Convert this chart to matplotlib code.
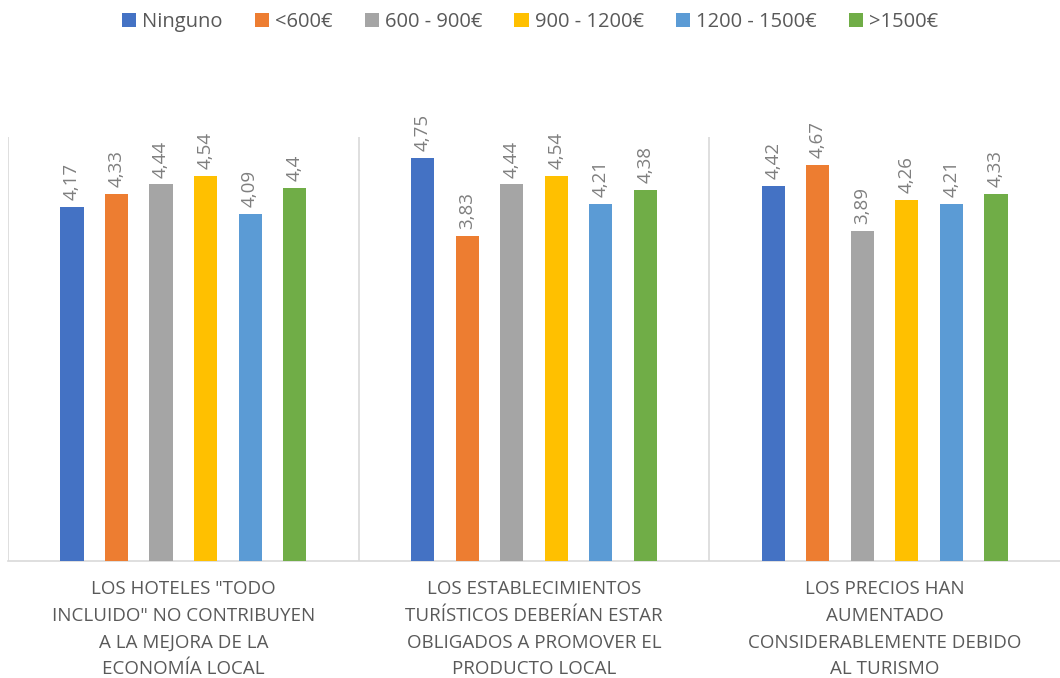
import matplotlib.pyplot as plt
import numpy as np

plt.rcParams['font.family'] = ['Open Sans', 'DejaVu Sans']

categories = [
    'LOS HOTELES "TODO\nINCLUIDO" NO CONTRIBUYEN\nA LA MEJORA DE LA\nECONOMÍA LOCAL',
    'LOS ESTABLECIMIENTOS\nTURÍSTICOS DEBERÍAN ESTAR\nOBLIGADOS A PROMOVER EL\nPRODUCTO LOCAL',
    'LOS PRECIOS HAN\nAUMENTADO\nCONSIDERABLEMENTE DEBIDO\nAL TURISMO',
]
series_names = ['Ninguno', '<600€', '600 - 900€', '900 - 1200€', '1200 - 1500€', '>1500€']
ninguno = [4.17, 4.75, 4.42]
menos_600 = [4.33, 3.83, 4.67]
de_600_900 = [4.44, 4.44, 3.89]
de_900_1200 = [4.54, 4.54, 4.26]
de_1200_1500 = [4.09, 4.21, 4.21]
mas_1500 = [4.4, 4.38, 4.33]
colors = ['#4472C4', '#ED7D31', '#A5A5A5', '#FFC000', '#5B9BD5', '#70AD47']

values = [ninguno, menos_600, de_600_900, de_900_1200, de_1200_1500, mas_1500]

fig = plt.figure(figsize=(10.6, 6.78), dpi=100)
ax = fig.add_axes([0.0075, 0.1726, 0.9925, 0.6254])

x = np.arange(len(categories))
step = 0.127
width = 0.066
for i, (name, vals, c) in enumerate(zip(series_names, values, colors)):
    pos = x + (i - 2.5) * step
    ax.bar(pos, vals, width, color=c, label=name, zorder=3)
    for p, v in zip(pos, vals):
        lbl = str(v).replace('.', ',')
        ax.annotate(lbl, (p, v), xytext=(0, 5), textcoords='offset points',
                    rotation=90, ha='center', va='bottom', fontsize=13.5, color='#7f7f7f')

ax.set_xlim(-0.5, 2.5)
ax.set_ylim(0, 5)
ax.set_yticks([])
ax.set_xticks(x)
ax.set_xticklabels(categories, fontsize=13.5, color='#595959', linespacing=1.62)
ax.tick_params(axis='x', length=0, pad=14)
for b in [-0.5, 0.5, 1.5]:
    ax.axvline(b, color='#d9d9d9', lw=1.2, zorder=1)
for s in ['top', 'right', 'left']:
    ax.spines[s].set_visible(False)
ax.spines['bottom'].set_color('#d9d9d9')
ax.spines['bottom'].set_linewidth(1.2)

fig.legend(loc='center', bbox_to_anchor=(0.5, 0.968), ncol=6, frameon=False,
           fontsize=14.5, handlelength=0.7, handleheight=0.7, handletextpad=0.3,
           columnspacing=1.6, labelcolor='#595959')

fig.savefig('out.png', dpi=100)
